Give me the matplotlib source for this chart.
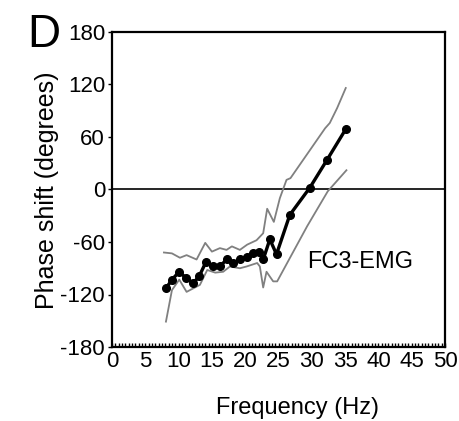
import numpy as np
import matplotlib.pyplot as plt
from matplotlib.ticker import MultipleLocator

plt.rcParams['font.family'] = ['Liberation Sans', 'DejaVu Sans']
plt.rcParams['axes.unicode_minus'] = False

# mean phase shift (with dots)
freq_mean = [8.1, 9.0, 10.1, 11.1, 12.2, 13.1, 14.1, 15.2, 16.2, 17.2, 18.2, 19.2,
             20.2, 21.2, 22.0, 22.7, 23.7, 24.7, 26.7, 29.7, 32.3, 35.1]
phase_mean = [-113, -103, -94, -101, -107, -99, -83, -87, -88, -80, -84, -80,
              -77, -73, -71, -80, -57, -74, -29, 2, 34, 69]

# upper confidence limit
freq_up = [7.8, 9.0, 10.2, 11.2, 12.7, 14.0, 15.0, 16.2, 17.2, 18.0, 19.2, 20.3,
           21.7, 22.7, 23.3, 24.3, 25.2, 26.2, 26.8, 32.0, 32.7, 33.8, 35.1]
phase_up = [-72, -73, -78, -75, -80, -61, -71, -67, -69, -65, -69, -63,
            -58, -50, -22, -37, -10, 11, 13, 70, 76, 93, 116]

# lower confidence limit
freq_lo = [8.1, 9.0, 10.1, 11.2, 12.2, 13.2, 14.3, 15.5, 16.7, 17.7, 19.2, 20.2,
           21.8, 22.2, 22.7, 23.2, 24.2, 24.8, 29.3, 32.4, 35.2]
phase_lo = [-151, -115, -103, -117, -113, -109, -92, -95, -94, -88, -90, -88,
            -84, -88, -112, -94, -105, -105, -42, -2, 22]

xticks = [0, 5, 10, 15, 20, 25, 30, 35, 40, 45, 50]
yticks = [-180, -120, -60, 0, 60, 120, 180]

fig = plt.figure(figsize=(4.6, 4.21), dpi=100)
ax = fig.add_axes([112/460, 1-347/421, 333/460, 315/421])

ax.axhline(0, color='black', lw=1.2, zorder=1)
ax.plot(freq_up, phase_up, color='#808080', lw=1.3)
ax.plot(freq_lo, phase_lo, color='#808080', lw=1.3)
ax.plot(freq_mean, phase_mean, color='black', lw=2.4, marker='o', ms=5.5)

ax.set_xlim(0, 50)
ax.set_ylim(-180, 180)
ax.set_xticks(xticks)
ax.set_yticks(yticks)
ax.xaxis.set_minor_locator(MultipleLocator(0.5))
ax.tick_params(axis='x', which='both', direction='in', length=3, width=1,
               labelsize=16, pad=3)
ax.tick_params(axis='y', direction='out', length=3, width=1, labelsize=16, pad=2)
for s in ax.spines.values():
    s.set_linewidth(1.6)

ax.text(29.3, -83, 'FC3-EMG', fontsize=17, va='center', ha='left')

fig.text(47/460, 1-190/421, 'Phase shift (degrees)', rotation=90,
         fontsize=18, ha='center', va='center')
fig.text(297/460, 1-408/421, 'Frequency (Hz)', fontsize=17,
         ha='center', va='center')
fig.text(27/460, 1-47/421, 'D', fontsize=33, ha='left', va='baseline')

fig.savefig('out.png', dpi=100)
